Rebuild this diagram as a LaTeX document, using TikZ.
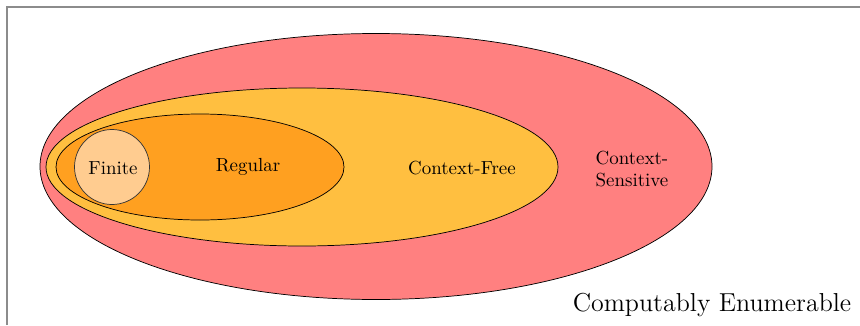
\documentclass[tikz,border=0pt]{standalone}
\usetikzlibrary{shapes.geometric}
\definecolor{csfill}{RGB}{255,128,128}
\definecolor{cffill}{RGB}{255,191,64}
\definecolor{regfill}{RGB}{255,160,32}
\definecolor{finfill}{RGB}{255,204,144}
\begin{document}
\begin{tikzpicture}[x=0.0195cm,y=-0.0195cm,
  region/.style={draw=black,line width=0.4pt},
  frameline/.style={draw=black!45,line width=0.8pt},
  label/.style={inner sep=0pt,align=center,font=\fontsize{10.5}{12.5}\selectfont}]
\useasboundingbox (0,0) rectangle (860,325);
% outer frame
\draw[frameline] (7,325) -- (7,7) -- (860,7);
% nested language classes
\filldraw[region,fill=csfill] (376,166.5) ellipse [x radius=336, y radius=133];
\filldraw[region,fill=cffill] (302,167) ellipse [x radius=256, y radius=79];
\filldraw[region,fill=regfill] (200,167) ellipse [x radius=144, y radius=53];
\filldraw[region,fill=finfill,draw=black!80] (112,167) circle [radius=37.5];
% labels
\node[label] (fin) at (113,168) {Finite};
\node[label] (reg) at (248,167) {Regular};
\node[label] (cf) at (462,168) {Context-Free};
\node[label] (cs) at (632,169) {Context-\\Sensitive};
\node[label,font=\Large] (ce) at (712,305) {Computably Enumerable};
\end{tikzpicture}
\end{document}
